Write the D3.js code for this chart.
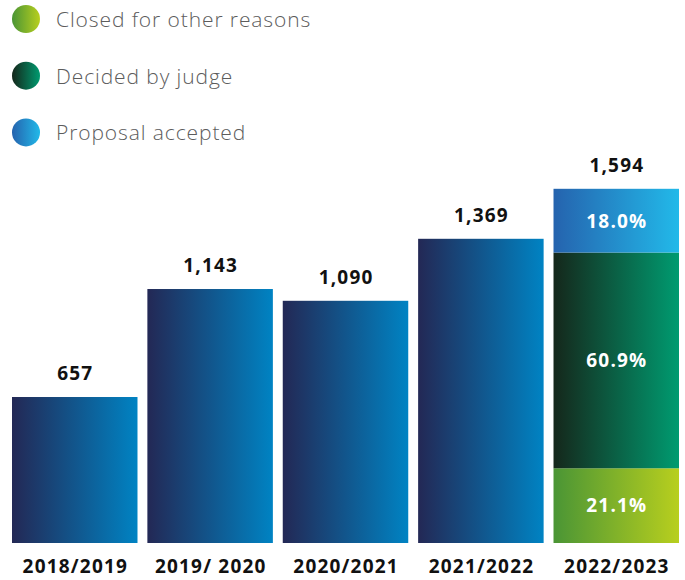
<!DOCTYPE html>
<html>
<head>
<meta charset="utf-8">
<script src="https://cdn.jsdelivr.net/npm/d3@7"></script>
<style>
  html, body { margin: 0; padding: 0; background: #fff; }
  svg { display: block; font-family: "Open Sans", "Noto Sans", sans-serif; }
</style>
</head>
<body>
<svg id="chart" width="685" height="580"></svg>
<script>
// Cases per year
const years = ["2018/2019", "2019/ 2020", "2020/2021", "2021/2022", "2022/2023"];
const totals = [657, 1143, 1090, 1369, 1594];

// Outcome breakdown of the latest year (percent), stacked bottom to top
const outcomeNames = ["Closed for other reasons", "Decided by judge", "Proposal accepted"];
const outcomeShares = [21.1, 60.9, 18.0];
const breakdownYear = "2022/2023";

// Legend order, top to bottom
const legendOrder = ["Closed for other reasons", "Decided by judge", "Proposal accepted"];

// Horizontal gradients per series
const gradients = {
  total: ["#232855", "#0083c3"],
  "Closed for other reasons": ["#4a9535", "#b8cf1e"],
  "Decided by judge": ["#15271b", "#009b70"],
  "Proposal accepted": ["#2563ae", "#22b9e9"]
};

const svg = d3.select("#chart");
const defs = svg.append("defs");
const gradId = {};
Object.entries(gradients).forEach(([key, [c0, c1]], i) => {
  const g = defs.append("linearGradient")
    .attr("id", "grad" + i)
    .attr("x1", "0%").attr("x2", "100%").attr("y1", "0%").attr("y2", "0%");
  g.append("stop").attr("offset", "0%").attr("stop-color", c0);
  g.append("stop").attr("offset", "100%").attr("stop-color", c1);
  gradId[key] = "grad" + i;
});
const fillOf = key => `url(#${gradId[key]})`;

const boldSpacing = 1.2;
const baseline = 543;
const x = d3.scaleBand().domain(years).range([12, 679]).paddingInner(0.073).paddingOuter(0);
const y = d3.scaleLinear().domain([0, d3.max(totals)]).range([baseline, 188.8]);
const cx = yr => x(yr) + x.bandwidth() / 2 + boldSpacing / 2;

const data = years.map((yr, i) => ({ year: yr, total: totals[i] }));

// Plain bars
svg.append("g").selectAll("rect")
  .data(data.filter(d => d.year !== breakdownYear))
  .join("rect")
  .attr("x", d => x(d.year))
  .attr("y", d => y(d.total))
  .attr("width", x.bandwidth())
  .attr("height", d => baseline - y(d.total))
  .attr("fill", fillOf("total"));

// Stacked bar for the breakdown year
const last = data.find(d => d.year === breakdownYear);
let acc = 0;
const segs = outcomeNames.map((name, i) => {
  const v0 = acc;
  acc += outcomeShares[i] * last.total / 100;
  return { name, share: outcomeShares[i], v0, v1: acc };
});
const segG = svg.append("g");
segG.selectAll("rect")
  .data(segs)
  .join("rect")
  .attr("x", x(breakdownYear))
  .attr("y", d => y(d.v1))
  .attr("width", x.bandwidth())
  .attr("height", d => y(d.v0) - y(d.v1))
  .attr("fill", d => fillOf(d.name));
segG.selectAll("text")
  .data(segs)
  .join("text")
  .attr("x", cx(breakdownYear))
  .attr("y", d => (y(d.v0) + y(d.v1)) / 2)
  .attr("dy", "0.36em")
  .attr("text-anchor", "middle")
  .attr("fill", "#fff")
  .attr("font-weight", 700)
  .attr("font-size", 19)
  .attr("letter-spacing", boldSpacing)
  .text(d => d.share.toFixed(1) + "%");

// Value labels above bars
svg.append("g").selectAll("text")
  .data(data)
  .join("text")
  .attr("x", d => cx(d.year))
  .attr("y", d => y(d.total) - 17)
  .attr("text-anchor", "middle")
  .attr("fill", "#111")
  .attr("font-weight", 700)
  .attr("font-size", 19)
  .attr("letter-spacing", boldSpacing)
  .text(d => d3.format(",")(d.total));

// Category axis labels
const xAxis = svg.append("g")
  .attr("transform", `translate(${boldSpacing / 2},${baseline})`)
  .call(d3.axisBottom(x).tickSize(0).tickPadding(0));
xAxis.select(".domain").remove();
xAxis.selectAll("text")
  .attr("dy", null)
  .attr("y", 30)
  .attr("fill", "#111")
  .attr("font-family", "'Open Sans', sans-serif")
  .attr("font-weight", 700)
  .attr("font-size", 19)
  .attr("letter-spacing", boldSpacing);

// Legend
const legend = svg.append("g").selectAll("g")
  .data(legendOrder)
  .join("g")
  .attr("transform", (d, i) => `translate(26,${19 + i * 56.7})`);
legend.append("circle")
  .attr("r", 14)
  .attr("fill", d => fillOf(d));
legend.append("text")
  .attr("x", 30)
  .attr("y", 8)
  .attr("fill", "#5c5c5c")
  .attr("font-weight", 300)
  .attr("font-size", 21)
  .attr("letter-spacing", 0.9)
  .text(d => d);
</script>
</body>
</html>
